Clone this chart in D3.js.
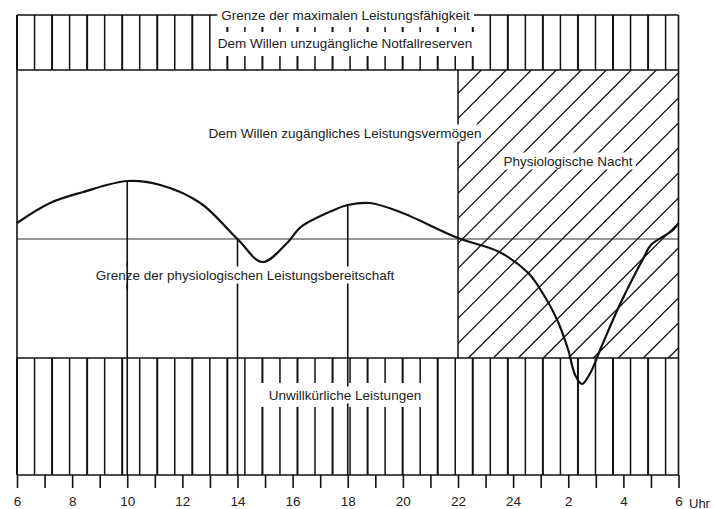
<!DOCTYPE html>
<html>
<head>
<meta charset="utf-8">
<script src="https://cdn.jsdelivr.net/npm/d3@7"></script>
<style>
  body { margin: 0; background: #fff; }
  text { font-family: "Liberation Sans", Arial, sans-serif; fill: #222; }
</style>
</head>
<body>
<div id="chart"></div>
<script>
// Time axis (hours, 30 = 6 Uhr next morning)
const tickHours = d3.range(6, 31);
const labelHours = [6, 8, 10, 12, 14, 16, 18, 20, 22, 24, 26, 28, 30];
const tickLabels = ["6", "8", "10", "12", "14", "16", "18", "20", "22", "24", "2", "4", "6"];

// Performance curve
const curveHours = [6, 7.2, 8.4, 10, 11.2, 12.65, 14, 14.9, 15.8, 16.3, 17.5, 18, 18.8, 19.9, 22,
  23.5, 24.55, 25, 25.6, 26, 26.25, 26.5, 26.8, 27.2, 27.9, 28.75, 29, 29.8, 30];
const curveLevels = [16, 36, 47, 58, 54, 36, 0, -23, -4, 12, 29, 34, 36, 27, 1,
  -13, -34, -51, -81, -111, -136, -145, -134, -108, -64, -18, -6, 9, 16];

// Hours where a vertical drop line is drawn from the curve
const markHours = [10, 14, 18];

// Band limits: max capacity, reserve limit, readiness limit, involuntary limit, floor
const bandLevels = [224, 169, 0, -119, -236];

// Physiological night
const nightSpan = [22, 30];

// Strips in the upper and lower bands
const stripStep = 0.636;
const stripIdx = d3.range(0, 38);
const topGapIdx = [12, 26];     // short ticks only, text in between
const bottomGapIdx = [14, 23];  // broken by the label

const width = 714, height = 509;
const fontSize = 13.5;

const x = d3.scaleLinear().domain([6, 30]).range([17, 678.5]);
const y = d3.scaleLinear().domain([-236, 224]).range([475, 15]);

const svg = d3.select("#chart").append("svg")
  .attr("width", width)
  .attr("height", height);

const ink = "#111";
const [yMax, yRes, yReady, yInv, yFloor] = bandLevels.map(y);
const stripX = k => x(6 + k * stripStep);

// hatch for the night area
const defs = svg.append("defs");
defs.append("clipPath").attr("id", "nightClip")
  .append("rect")
  .attr("x", x(nightSpan[0]))
  .attr("y", yRes)
  .attr("width", x(nightSpan[1]) - x(nightSpan[0]))
  .attr("height", yInv - yRes);

const hatchOffsets = d3.range(-14, 12);
svg.append("g")
  .attr("clip-path", "url(#nightClip)")
  .selectAll("line")
  .data(hatchOffsets)
  .join("line")
  .attr("x1", d => 468.3 + d * 25)
  .attr("y1", yInv)
  .attr("x2", d => 468.3 + d * 25 + (yInv - yRes))
  .attr("y2", yRes)
  .attr("stroke", ink)
  .attr("stroke-width", 1.3);

// night border
svg.append("line")
  .attr("x1", x(nightSpan[0])).attr("x2", x(nightSpan[0]))
  .attr("y1", yRes).attr("y2", yInv)
  .attr("stroke", ink).attr("stroke-width", 1.5);

// readiness limit line
svg.append("line")
  .attr("x1", x(6)).attr("x2", x(30))
  .attr("y1", yReady).attr("y2", yReady)
  .attr("stroke", "#333").attr("stroke-width", 1.2);

// upper band strips
const topStrips = svg.append("g");
stripIdx.forEach(k => {
  const sw = k % 2 === 0 ? 2 : 1.5;
  if (k >= topGapIdx[0] && k <= topGapIdx[1]) {
    topStrips.append("line")
      .attr("x1", stripX(k)).attr("x2", stripX(k))
      .attr("y1", 27).attr("y2", 32)
      .attr("stroke", ink).attr("stroke-width", sw);
    topStrips.append("line")
      .attr("x1", stripX(k)).attr("x2", stripX(k))
      .attr("y1", 56).attr("y2", yRes)
      .attr("stroke", ink).attr("stroke-width", sw);
  } else {
    topStrips.append("line")
      .attr("x1", stripX(k)).attr("x2", stripX(k))
      .attr("y1", yMax).attr("y2", yRes)
      .attr("stroke", ink).attr("stroke-width", sw);
  }
});

// lower band strips
const botStrips = svg.append("g");
stripIdx.forEach(k => {
  const sw = k % 2 === 0 ? 2 : 1.5;
  if (k >= bottomGapIdx[0] && k <= bottomGapIdx[1]) {
    botStrips.append("line")
      .attr("x1", stripX(k)).attr("x2", stripX(k))
      .attr("y1", yInv).attr("y2", 383)
      .attr("stroke", ink).attr("stroke-width", sw);
    botStrips.append("line")
      .attr("x1", stripX(k)).attr("x2", stripX(k))
      .attr("y1", 407).attr("y2", yFloor)
      .attr("stroke", ink).attr("stroke-width", sw);
  } else {
    botStrips.append("line")
      .attr("x1", stripX(k)).attr("x2", stripX(k))
      .attr("y1", yInv).attr("y2", yFloor)
      .attr("stroke", ink).attr("stroke-width", sw);
  }
});

// drop lines from the curve
const levelAt = h => curveLevels[curveHours.indexOf(h)];
svg.append("g").selectAll("line")
  .data(markHours)
  .join("line")
  .attr("x1", d => x(d)).attr("x2", d => x(d))
  .attr("y1", d => y(levelAt(d)))
  .attr("y2", yFloor)
  .attr("stroke", ink)
  .attr("stroke-width", 1.6);

// frame
const frame = svg.append("g")
  .attr("stroke", ink)
  .attr("stroke-width", 1.6)
  .attr("fill", "none");
[yMax, yRes, yInv, yFloor].forEach(v => {
  frame.append("line")
    .attr("x1", x(6)).attr("x2", x(30))
    .attr("y1", v).attr("y2", v);
});
[6, 30].forEach(h => {
  frame.append("line")
    .attr("x1", x(h)).attr("x2", x(h))
    .attr("y1", yMax).attr("y2", yFloor);
});

// labels with white backing
function label(txt, cx, cy, pad) {
  const g = svg.append("g");
  const t = g.append("text")
    .attr("x", cx).attr("y", cy)
    .attr("text-anchor", "middle")
    .attr("dominant-baseline", "central")
    .style("font-size", fontSize + "px")
    .text(txt);
  const b = t.node().getBBox();
  g.insert("rect", "text")
    .attr("x", b.x - pad).attr("y", b.y - 1)
    .attr("width", b.width + 2 * pad).attr("height", b.height + 2)
    .attr("fill", "#fff");
  return g;
}

label("Grenze der maximalen Leistungsfähigkeit", 345.5, 15, 4);
label("Dem Willen unzugängliche Notfallreserven", 345, 43, 3);
label("Dem Willen zugängliches Leistungsvermögen", 345, 133, 3);
label("Physiologische Nacht", 568, 161, 3);
label("Unwillkürliche Leistungen", 345, 395, 3);
label("Grenze der physiologischen Leistungsbereitschaft", 245, 275, 3);

// 10 Uhr line runs through the readiness label
svg.append("line")
  .attr("x1", x(10)).attr("x2", x(10))
  .attr("y1", 262).attr("y2", 290)
  .attr("stroke", ink).attr("stroke-width", 1.6);

// curve
const line = d3.line()
  .x((d, i) => x(curveHours[i]))
  .y(d => y(d))
  .curve(d3.curveCatmullRom.alpha(0.5));

svg.append("path")
  .datum(curveLevels)
  .attr("fill", "none")
  .attr("stroke", ink)
  .attr("stroke-width", 2.2)
  .attr("d", line);

// time axis
const axis = d3.axisBottom(x)
  .tickValues(tickHours)
  .tickSize(13)
  .tickFormat(d => {
    const i = labelHours.indexOf(d);
    return i >= 0 ? tickLabels[i] : "";
  });

const gAxis = svg.append("g")
  .attr("transform", `translate(0,${yFloor})`)
  .call(axis);
gAxis.select(".domain").remove();
gAxis.selectAll(".tick line").attr("stroke", ink).attr("stroke-width", 1.6);
gAxis.selectAll(".tick text")
  .attr("y", 21)
  .style("font-size", fontSize + "px")
  .style("font-family", "'Liberation Sans', Arial, sans-serif")
  .attr("fill", "#222");

svg.append("text")
  .attr("x", 689).attr("y", 503)
  .attr("dominant-baseline", "central")
  .style("font-size", "13px")
  .text("Uhr");
</script>
</body>
</html>
